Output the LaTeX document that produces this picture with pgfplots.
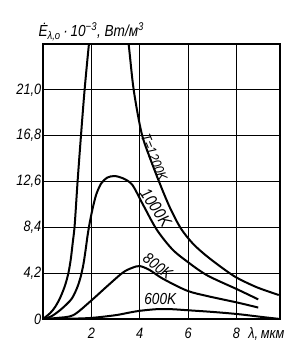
\documentclass[border=0pt]{standalone}
\usepackage{fontspec}
\setmainfont{Liberation Sans}[FakeStretch=0.85]
\usepackage{pgfplots}
\pgfplotsset{compat=1.18}
\begin{document}
\begin{tikzpicture}
\begin{axis}[
  scale only axis, width=237pt, height=275pt,
  xmin=0, xmax=9.8, ymin=0, ymax=25.2,
  xtick={2,4,6,8}, xticklabels={2,4,6,8},
  ytick={0,4.2,8.4,12.6,16.8,21.0},
  yticklabels={0,{4,2},{8,4},{12,6},{16,8},{21,0}},
  grid=major, major grid style={black, line width=1.1pt},
  axis line style={line width=1.6pt},
  major tick length=0pt,
  tick label style={font=\fontsize{15}{18}\selectfont\itshape},
  xticklabel style={anchor=base, yshift=-19pt},
  yticklabel style={inner xsep=1.5pt},
  clip mode=individual,
  cycle list={{black}},
  every axis plot post/.append style={black, line width=2pt, smooth, tension=0.5, mark=none},
]
% T = 1200 K
\addplot coordinates {(0,0) (0.3,0.55) (0.5,1.1) (0.7,1.9) (0.9,3.0) (1.05,4.2) (1.15,5.5) (1.23,7.0) (1.31,8.6) (1.43,12.6) (1.57,16.8) (1.72,21.0) (1.9,25.2) (2.05,28.0) (2.5,30.8) (3.0,30.6) (3.35,28.2) (3.54,25.2) (3.75,21.0) (4.08,17.0) (4.45,14.6) (4.85,12.3) (5.25,10.2) (5.7,8.3) (6.2,6.9) (6.75,5.8) (7.4,4.7) (8.0,3.8) (8.85,2.9) (9.75,2.2)};
% 1000 K
\addplot coordinates {(0,0) (0.35,0.25) (0.7,0.8) (1.0,1.4) (1.2,1.9) (1.4,2.8) (1.55,3.8) (1.67,5.0) (1.76,6.3) (1.84,7.6) (1.93,8.8) (2.05,10.1) (2.2,11.4) (2.4,12.4) (2.65,12.95) (2.95,13.1) (3.3,12.9) (3.69,12.3) (4.13,10.5) (4.7,8.2) (5.34,6.4) (5.94,5.3) (6.79,4.0) (8.05,2.7) (8.9,1.8)};
% 800 K
\addplot coordinates {(0,0) (0.6,0.1) (1.25,0.35) (1.95,1.6) (2.65,3.0) (3.3,4.25) (3.7,4.7) (4.0,4.85) (4.4,4.5) (4.95,3.7) (5.95,2.6) (6.8,2.1) (8.05,1.5) (8.9,1.05)};
% 600 K
\addplot coordinates {(0,0) (1.0,0.02) (2.0,0.1) (3.0,0.35) (3.6,0.6) (4.0,0.75) (4.7,0.9) (5.3,0.9) (6.0,0.8) (7.0,0.65) (8.05,0.45) (9.0,0.2) (9.8,0.0)};

\node[rotate=-68, font=\fontsize{14}{16}\selectfont\itshape] at (axis cs:4.6,14.8) {T=1200K};
\node[rotate=-56, font=\fontsize{17}{19}\selectfont\itshape] at (axis cs:4.67,10.2) {1000K};
\node[rotate=-37, font=\fontsize{16}{18}\selectfont\itshape] at (axis cs:4.75,4.85) {800K};
\node[font=\fontsize{16}{18}\selectfont\itshape] at (axis cs:4.85,1.8) {600K};

\node[anchor=base west, font=\fontsize{16}{18}\selectfont\itshape] at ([xshift=-8pt,yshift=7pt]rel axis cs:0,1)
  {Ė\textsubscript{λ,o}\,·\,10\textsuperscript{−3},\ Вт/м\textsuperscript{3}};
\node[anchor=base west, font=\fontsize{15}{18}\selectfont\itshape] at ([yshift=-19pt]axis cs:8.35,0) {λ,\,мкм};

\path ([xshift=-43pt,yshift=-29pt]rel axis cs:0,0) rectangle ([xshift=15pt,yshift=44pt]rel axis cs:1,1);
\end{axis}
\end{tikzpicture}
\end{document}
